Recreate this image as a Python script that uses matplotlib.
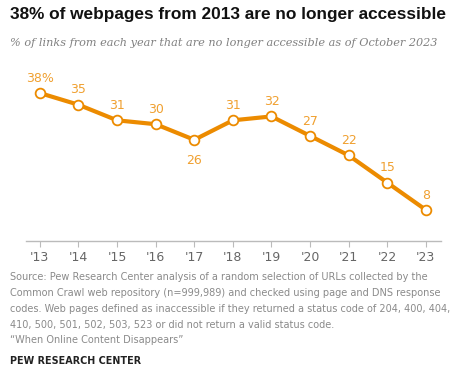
import matplotlib
matplotlib.use("Agg")
import matplotlib.pyplot as plt

years = list(range(2013, 2024))
year_labels = ["'13", "'14", "'15", "'16", "'17", "'18", "'19", "'20", "'21", "'22", "'23"]
values = [38, 35, 31, 30, 26, 31, 32, 27, 22, 15, 8]
value_labels = ["38%", "35", "31", "30", "26", "31", "32", "27", "22", "15", "8"]

title = "38% of webpages from 2013 are no longer accessible"
subtitle = "% of links from each year that are no longer accessible as of October 2023"
source = ("Source: Pew Research Center analysis of a random selection of URLs collected by the\n"
          "Common Crawl web repository (n=999,989) and checked using page and DNS response\n"
          "codes. Web pages defined as inaccessible if they returned a status code of 204, 400, 404,\n"
          "410, 500, 501, 502, 503, 523 or did not return a valid status code.\n"
          "\u201cWhen Online Content Disappears\u201d")

orange = "#EC8B00"
label_orange = "#F0A030"

fig = plt.figure(figsize=(4.59, 3.72), dpi=100)
ax = fig.add_axes([0.0566, 0.352, 0.904, 0.446])

ax.plot(years, values, color=orange, lw=3.0, marker="o", ms=7,
        mfc="white", mec=orange, mew=1.3, zorder=3)

for x, v, lab in zip(years, values, value_labels):
    if lab == "26":
        ax.annotate(lab, (x, v), xytext=(0, -10), textcoords="offset points",
                    ha="center", va="top", fontsize=9, color=label_orange)
    else:
        ax.annotate(lab, (x, v), xytext=(0, 6), textcoords="offset points",
                    ha="center", va="bottom", fontsize=9, color=label_orange)

ax.set_xlim(2012.64, 2023.39)
ax.set_ylim(0, 42.6)
ax.set_xticks(years)
ax.set_xticklabels(year_labels, fontsize=9, color="#666666")
ax.set_yticks([])
for s in ["top", "right", "left"]:
    ax.spines[s].set_visible(False)
ax.spines["bottom"].set_color("#BBBBBB")
ax.spines["bottom"].set_linewidth(1.0)
ax.tick_params(axis="x", length=4, color="#BBBBBB", pad=3)

fig.text(0.022, 0.96, title, fontsize=12.4, fontweight="bold",
         family="Liberation Sans", color="#111111", va="center")
fig.text(0.022, 0.885, subtitle, fontsize=8.1, style="italic",
         family="DejaVu Serif", color="#808080", va="center")
fig.text(0.022, 0.268, source, fontsize=7.0, color="#8A8A8A",
         va="top", linespacing=1.72)
fig.text(0.022, 0.03, "PEW RESEARCH CENTER", fontsize=6.9, fontweight="bold",
         color="#222222", va="center")

fig.savefig("out.png", dpi=100)
